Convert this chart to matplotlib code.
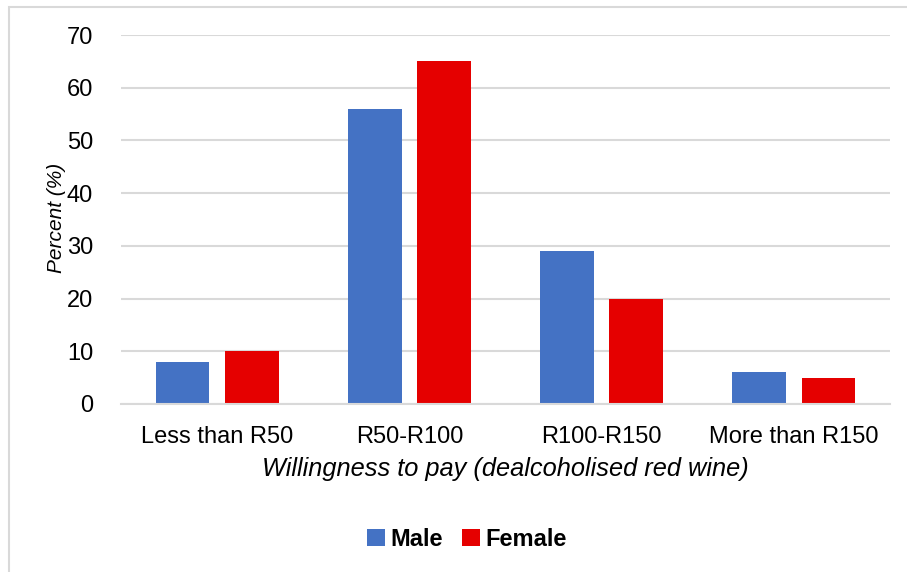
import numpy as np
import matplotlib.pyplot as plt
from matplotlib.patches import Rectangle

categories = ["Less than R50", "R50-R100", "R100-R150", "More than R150"]
male = [8, 56, 29, 6]
female = [10, 65, 20, 5]
yticks = [0, 10, 20, 30, 40, 50, 60, 70]

plt.rcParams["font.family"] = ["Liberation Sans", "DejaVu Sans"]

W, H = 907, 572
fig = plt.figure(figsize=(W / 100, H / 100), dpi=100)
ax = fig.add_axes([121 / W, 1 - 404 / H, (890 - 121) / W, (404 - 35) / H])

# outer chart frame (runs off the right and bottom edges)
fig.patches.append(Rectangle((8.5 / W, -0.1), 1.2, 1.1 - 6.5 / H, transform=fig.transFigure,
                             fill=False, edgecolor="#D9D9D9", linewidth=1.5))

x = np.arange(len(categories))
w = 0.28
ax.bar(x - 0.18, male, w, color="#4472C4", label="Male", zorder=3)
ax.bar(x + 0.18, female, w, color="#E50000", label="Female", zorder=3)

ax.set_xlim(-0.5, len(categories) - 0.5)
ax.set_ylim(0, 70)
ax.set_yticks(yticks)
ax.yaxis.grid(True, color="#D9D9D9", linewidth=1.5, zorder=0)
for s in ["top", "right", "left"]:
    ax.spines[s].set_visible(False)
ax.spines["bottom"].set_color("#D9D9D9")
ax.spines["bottom"].set_linewidth(1.5)
ax.spines["bottom"].set_zorder(4)

ax.set_xticks(x)
ax.set_xticklabels(categories)
ax.tick_params(axis="both", length=0, labelsize=17, colors="black")
ax.tick_params(axis="x", pad=16)
ax.tick_params(axis="y", pad=20)

ax.set_xlabel("Willingness to pay (dealcoholised red wine)", fontsize=18.3, style="italic", va="center")
ax.xaxis.set_label_coords(0.5, (404 - 469) / 369)
ax.set_ylabel("Percent (%)", fontsize=15, style="italic", va="center")
ax.yaxis.set_label_coords((56 - 121) / 769, (404 - 218) / 369)

leg = fig.legend(loc="center", bbox_to_anchor=(467 / W, 1 - 539 / H), ncol=2, frameon=False,
                 prop={"size": 17, "weight": "bold"}, handlelength=0.75, handleheight=0.75,
                 handletextpad=0.25, columnspacing=0.8)

fig.savefig("out.png", dpi=100)
